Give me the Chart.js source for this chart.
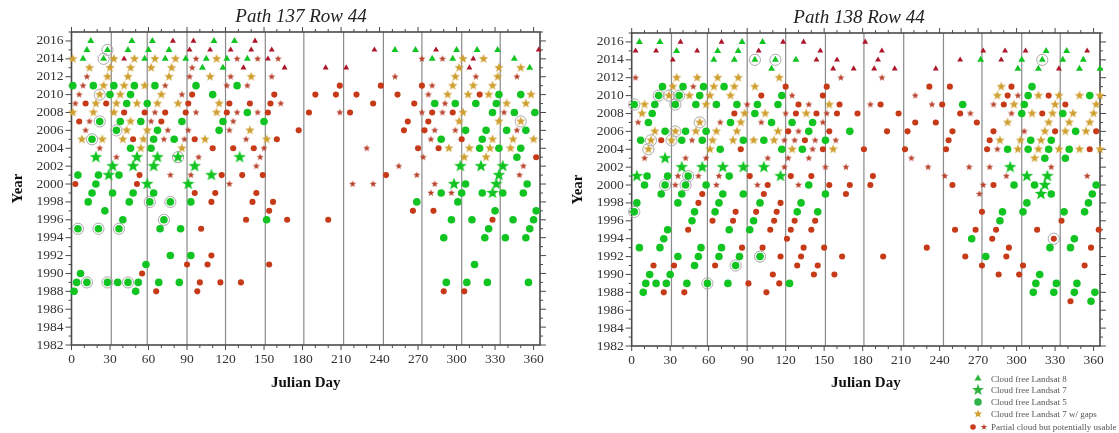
<!DOCTYPE html>
<html>
<head>
<meta charset="utf-8">
<title>Path 137 / 138 Row 44</title>
<script src="https://cdn.jsdelivr.net/npm/chart.js@4"></script>
<style>
  html, body { margin: 0; padding: 0; background: #fff; overflow: hidden; width: 1119px; height: 433px; }
  canvas { position: absolute; top: 0; filter: blur(0.35px); }
  #chart137 { left: 0; }
  #chart138 { left: 560px; }
  #legend { position: absolute; left: 966px; top: 372px; width: 153px; font: 9px "Liberation Serif", serif; color: #555; }
  #legend div { position: absolute; left: 25px; white-space: nowrap; line-height: 12px; }
  #legend svg { position: absolute; left: 0; top: 0; }
</style>
</head>
<body>
<canvas id="chart137" width="602" height="400"></canvas>
<canvas id="chart138" width="598" height="400"></canvas>
<div id="legend">
  <svg width="30" height="61">
    <polygon points="12,2.5 15.5,8.5 8.5,8.5" fill="#2fb33f"/>
    <polygon id="legendBig" points="" fill="#2fb33f"/>
    <circle cx="12" cy="30" r="3.8" fill="#2fb34a"/>
    <polygon id="legendGold" points="" fill="#cf9f30"/>
    <circle cx="7" cy="55" r="2.8" fill="#c63a18"/>
    <polygon id="legendRed" points="" fill="#b8402a"/>
  </svg>
  <div style="top:1px">Cloud free Landsat 8</div>
  <div style="top:12px">Cloud free Landsat 7</div>
  <div style="top:24px">Cloud free Landsat 5</div>
  <div style="top:36px">Cloud free Landsat 7 w/ gaps</div>
  <div style="top:49px">Partial cloud but potentially usable</div>
</div>

<script>
// axis and reference lines
const monthLines = [31, 59, 90, 120, 151, 181, 212, 243, 273, 304, 334];
const dayTicks = [0, 10, 20, 30, 40, 50, 60, 70, 80, 90, 100, 110, 120, 130, 140, 150, 160, 170, 180,
  190, 200, 210, 220, 230, 240, 250, 260, 270, 280, 290, 300, 310, 320, 330, 340, 350, 360];

// Path 137: year -> julian days
const p137L8 = {
  2016: [15, 47, 63, 111, 127],
  2015: [12, 28, 44, 60, 76, 252, 268, 300, 316, 332],
  2014: [9, 25, 57, 73, 89, 105, 121, 137, 281, 297, 345],
  2013: [102, 118, 357]
};
const p137L7 = {
  2003: [19, 51, 67, 83, 131],
  2002: [32, 48, 64, 96, 303, 319, 336],
  2001: [29, 109, 333],
  2000: [59, 91, 298, 331],
  1999: [328]
};
const p137L5 = {
  2011: [1, 17, 33, 49, 65, 97, 129],
  2010: [30, 46, 110, 333, 350],
  2009: [43, 59, 283, 299, 315, 331],
  2008: [137, 328, 345, 361],
  2007: [22, 38, 54, 86, 118, 150],
  2006: [35, 67, 115, 307, 323, 339, 354],
  2005: [16, 64, 80, 288, 320],
  2004: [46, 62, 318, 333, 350],
  2003: [347],
  2001: [5, 21, 37],
  2000: [19, 307, 355],
  1999: [16, 32, 48, 64, 288, 304, 320, 336, 352],
  1998: [13, 45, 61, 77, 93, 269, 301],
  1997: [26, 330, 362],
  1996: [40, 72, 152, 296, 312, 344, 360],
  1995: [5, 21, 37, 69, 85, 325, 357],
  1994: [290, 322, 338, 354],
  1992: [77, 93],
  1991: [58, 314],
  1990: [7],
  1989: [4, 12, 28, 36, 44, 52, 68, 84, 292, 308, 324, 356],
  1988: [2, 50]
};
const p137Gaps = {
  2014: [1, 33, 49, 65, 81, 113, 305, 321],
  2013: [14, 30, 46, 62, 78, 302, 333, 350],
  2012: [28, 44, 76, 108, 140, 299, 332],
  2011: [25, 41, 57, 297, 313, 328],
  2010: [22, 38, 70, 293, 309, 325, 358],
  2009: [19, 35, 51, 67, 83, 115, 339, 354],
  2008: [1, 17, 33, 113, 305],
  2007: [46, 302, 333, 350],
  2006: [43, 59, 139],
  2005: [8, 24, 40, 56, 104, 152, 328, 344, 360],
  2004: [54, 86, 294, 310, 326, 342],
  2003: [306, 323]
};
const p137PartCircle = {
  2011: [209, 241, 273],
  2010: [94, 158, 190, 206, 222, 254, 318],
  2009: [11, 27, 91, 123, 139, 155, 235, 267],
  2008: [41, 57, 73, 89, 121, 153, 185, 217, 281, 297],
  2007: [6, 70, 262, 278],
  2006: [177, 259, 275],
  2005: [48, 96, 160, 304],
  2004: [110, 126, 142, 270, 286],
  2003: [362],
  2001: [53, 117, 133, 149, 245],
  2000: [3, 51],
  1999: [96, 112, 144],
  1998: [109, 141, 157],
  1997: [154, 266, 282],
  1996: [136, 168, 200, 328],
  1995: [101],
  1992: [109],
  1991: [90, 106, 154],
  1990: [55],
  1989: [100, 116, 132],
  1988: [66, 98, 290, 306]
};
const p137PartStar = {
  2014: [97, 129, 145, 161, 273, 289],
  2013: [94],
  2012: [12, 92, 124, 156, 252, 315, 347],
  2011: [9, 73, 121, 137, 281],
  2010: [6, 86, 278],
  2009: [3, 163, 291],
  2008: [65, 97, 129, 145, 209, 273, 289, 337],
  2007: [14, 62, 126],
  2006: [11, 75, 91, 123, 283, 299, 347],
  2005: [72, 88, 136, 280],
  2004: [22, 150, 230],
  2003: [35, 99, 147, 274],
  2002: [144, 255, 352],
  2001: [77, 93, 269, 349],
  2000: [123, 219, 235, 283],
  1999: [280, 296]
};
const p137PartTri = {
  2016: [79, 95, 143],
  2015: [92, 108, 124, 140, 156, 236, 284, 364],
  2014: [41, 153, 313],
  2013: [134, 166, 198, 214, 310]
};
const p137Rings = {
  2015: [28],
  2014: [25],
  2010: [22],
  2007: [22, 350],
  2006: [35],
  2005: [16],
  2003: [83],
  1998: [61, 77],
  1996: [72],
  1995: [5, 21, 37],
  1989: [12, 28, 44]
};

// Path 138: year -> julian days
const p138L8 = {
  2016: [6, 22, 86, 102],
  2015: [35, 67, 83, 323, 339],
  2014: [64, 80, 96, 112, 128, 272, 304, 320, 336, 352],
  2013: [109, 301, 317, 349, 365]
};
const p138L7 = {
  2003: [26],
  2002: [39, 55, 71, 87, 103, 295],
  2001: [4, 116, 308, 324],
  2000: [322],
  1999: [319]
};
const p138L5 = {
  2011: [24, 40, 56, 72, 312],
  2010: [21, 37, 53, 117, 309, 357],
  2009: [2, 18, 34, 50, 66, 82, 98, 114, 258, 306],
  2008: [16, 96, 304, 336],
  2007: [13, 77, 109, 125, 141],
  2006: [26, 42, 58, 138, 170, 346],
  2005: [7, 39, 55, 87, 103, 151, 311, 327],
  2004: [69, 117, 133, 293, 309, 325, 341],
  2003: [322, 338],
  2001: [12, 28, 44, 76],
  2000: [10, 26, 42, 58, 138, 298, 314, 362],
  1999: [23, 39, 71, 87, 151, 327, 359],
  1998: [4, 36, 68, 100, 132, 308, 356],
  1997: [2, 49, 65, 129, 145, 289, 305, 337, 353],
  1996: [47, 95, 287],
  1995: [28, 76, 92],
  1994: [25, 265, 345],
  1993: [6, 22, 54, 70, 326, 342],
  1992: [36, 52, 68, 84, 100, 276],
  1991: [49, 81],
  1990: [14, 30, 318],
  1989: [11, 19, 27, 43, 59, 75, 123, 315, 331, 347],
  1988: [9, 313, 329, 345, 361],
  1987: [358]
};
const p138Gaps = {
  2012: [35, 51, 67, 83, 115],
  2011: [32, 64, 80, 96, 288],
  2010: [29, 45, 61, 77, 285, 317, 333, 349, 365],
  2009: [10, 58, 154, 298, 330, 362],
  2008: [8, 88, 104, 136, 312, 328, 344, 360],
  2007: [53, 85, 293, 325, 341, 357],
  2006: [18, 34, 50, 66, 82, 114, 322, 338, 354],
  2005: [15, 31, 63, 79, 95, 111, 287, 303, 319],
  2004: [13, 61, 125, 157, 301, 317, 333, 349, 365],
  2003: [314]
};
const p138PartCircle = {
  2011: [120, 152, 232, 248, 296],
  2010: [101, 149, 293, 325],
  2009: [130, 162, 194, 242, 290, 338],
  2008: [80, 128, 144, 160, 176, 208, 256, 320],
  2007: [221, 237, 269],
  2006: [122, 154, 199, 215, 250, 282, 330, 362],
  2005: [23, 135, 247, 279],
  2004: [85, 149, 181, 213, 245, 277, 357],
  2001: [92, 124, 140, 188],
  2000: [106, 154, 170, 186, 250, 282],
  1999: [55, 103, 167],
  1998: [52, 116],
  1997: [81, 97, 113, 273],
  1996: [63, 79, 111, 127, 143, 335],
  1995: [44, 108, 124, 140, 252, 268, 284, 316, 364],
  1994: [121, 281, 329],
  1993: [86, 102, 134, 150, 230, 294, 358],
  1992: [116, 132, 164, 196, 260, 292],
  1991: [17, 33, 65, 129, 145, 273, 305, 353],
  1990: [110, 142, 158, 286, 302],
  1989: [91, 115],
  1988: [25, 41, 105],
  1987: [342]
};
const p138PartStar = {
  2012: [3, 163, 195],
  2011: [48],
  2010: [125, 221, 301],
  2009: [90, 138, 186, 234, 282],
  2008: [120, 152, 264, 296],
  2007: [5, 69, 101, 149],
  2006: [130, 306],
  2005: [47, 119, 127, 143, 159],
  2004: [141, 285],
  2003: [10, 42, 58, 106, 122, 138, 218],
  2002: [119, 151, 167, 231, 263, 279, 327],
  2001: [36, 52, 68, 244, 292, 355],
  2000: [34, 66, 98, 130, 274],
  1999: [271]
};
const p138PartTri = {
  2016: [38, 70, 118, 134, 182],
  2015: [3, 19, 51, 99, 147, 195, 274, 291, 307, 355],
  2014: [32, 144, 160, 192, 256, 288],
  2013: [157, 173, 189, 205, 237, 333]
};
const p138Rings = {
  2014: [96, 112, 320],
  2010: [21, 29, 37],
  2009: [2, 34],
  2007: [53],
  2006: [34],
  2005: [15, 31],
  2004: [13],
  2001: [44],
  2000: [26, 42],
  1997: [2],
  1994: [329],
  1992: [100],
  1991: [81],
  1989: [59]
};

// colours
const green = '#12c422';
const gold = '#cf9f30';
const redCircle = '#c63a18';
const redStar = '#b8402a';
const redTri = '#ad1528';
const ringGrey = '#a8a8a8';
const frameGrey = '#4a4a4a';
const lineGrey = '#8a8a8a';

// turn {year: [days]} into scatter points
function toPoints(rows) {
  var out = [];
  Object.keys(rows).forEach(function (year) {
    rows[year].forEach(function (day) {
      out.push({ x: day, y: Number(year) });
    });
  });
  return out;
}

function starPath(cx, cy, r) {
  var pts = [];
  for (var i = 0; i < 10; i++) {
    var rad = i % 2 === 0 ? r : r * 0.42;
    var a = -Math.PI / 2 + i * Math.PI / 5;
    pts.push([cx + rad * Math.cos(a), cy + rad * Math.sin(a)]);
  }
  return pts;
}

// chart.js "star" is only crossed lines, so make a filled five point star
function makeStar(r, color) {
  var c = document.createElement('canvas');
  c.width = c.height = Math.ceil(r * 2 + 2);
  var ctx = c.getContext('2d');
  ctx.fillStyle = color;
  ctx.beginPath();
  starPath(c.width / 2, c.height / 2, r).forEach(function (p, i) {
    if (i === 0) ctx.moveTo(p[0], p[1]); else ctx.lineTo(p[0], p[1]);
  });
  ctx.closePath();
  ctx.fill();
  return c;
}

const bigStar = makeStar(6.6, green);
const goldStar = makeStar(4.9, gold);
const smallStar = makeStar(3.7, redStar);

// frame, month lines and the ticks on all four sides
const framePlugin = {
  id: 'frame',
  // title is centred a little off the plot in the original
  afterLayout: function (chart) {
    var shift = chart.options.titleShift || 0;
    chart.titleBlock.left += shift;
    chart.titleBlock.right += shift;
  },
  beforeDatasetsDraw: function (chart) {
    var a = chart.chartArea, ctx = chart.ctx;
    var xs = chart.scales.x, ys = chart.scales.y;
    ctx.save();
    ctx.strokeStyle = lineGrey;
    ctx.lineWidth = 1.2;
    monthLines.forEach(function (d) {
      var px = xs.getPixelForValue(d);
      ctx.beginPath(); ctx.moveTo(px, a.top); ctx.lineTo(px, a.bottom); ctx.stroke();
    });
    ctx.strokeStyle = frameGrey;
    ctx.lineWidth = 1;
    xs.ticks.forEach(function (t) {
      var px = xs.getPixelForValue(t.value);
      var len = t.value % 30 === 0 ? 5 : 3;
      ctx.beginPath();
      ctx.moveTo(px, a.top); ctx.lineTo(px, a.top - len);
      ctx.moveTo(px, a.bottom); ctx.lineTo(px, a.bottom + len);
      ctx.stroke();
    });
    ys.ticks.forEach(function (t) {
      var py = ys.getPixelForValue(t.value);
      var len = t.value % 2 === 0 ? 6 : 3;
      ctx.beginPath();
      ctx.moveTo(a.left, py); ctx.lineTo(a.left - len, py);
      ctx.moveTo(a.right, py); ctx.lineTo(a.right + len, py);
      ctx.stroke();
    });
    ctx.lineWidth = 1.6;
    ctx.strokeRect(a.left, a.top, a.right - a.left, a.bottom - a.top);
    ctx.restore();
  }
};

function series(label, rows, style, radius, color) {
  return {
    label: label,
    data: toPoints(rows),
    pointStyle: style,
    pointRadius: radius,
    pointBackgroundColor: color,
    pointBorderWidth: 0,
    showLine: false,
    clip: false
  };
}

function makeChart(id, title, data, axisW, axisH, rightPad, topPad, titleShift) {
  var rings = series('Highlighted', data.rings, 'circle', 5.6, 'rgba(0,0,0,0)');
  rings.pointBorderColor = ringGrey;
  rings.pointBorderWidth = 1;
  return new Chart(document.getElementById(id), {
    type: 'scatter',
    data: {
      datasets: [
        series('Cloud free Landsat 7', data.l7, bigStar, 6, green),
        series('Cloud free Landsat 5', data.l5, 'circle', 3.8, green),
        series('Cloud free Landsat 8', data.l8, 'triangle', 4, green),
        series('Cloud free Landsat 7 w/ gaps', data.gaps, goldStar, 4, gold),
        series('Partial cloud but potentially usable', data.partCircle, 'circle', 3.05, redCircle),
        series('Partial cloud star', data.partStar, smallStar, 3, redStar),
        series('Partial cloud triangle', data.partTri, 'triangle', 3.4, redTri),
        rings
      ]
    },
    options: {
      responsive: false,
      animation: false,
      titleShift: titleShift,
      layout: { padding: { left: 0, right: rightPad, top: 0, bottom: 0 } },
      plugins: {
        legend: { display: false },
        tooltip: { enabled: false },
        title: {
          display: true,
          text: title,
          color: '#222',
          font: { family: '"Liberation Serif", serif', size: 19, style: 'italic', weight: 'normal' },
          padding: { top: topPad + 1, bottom: 3.2 }
        }
      },
      scales: {
        x: {
          type: 'linear',
          min: 0,
          max: 365,
          border: { display: false },
          grid: { display: false, drawTicks: false },
          afterBuildTicks: function (axis) {
            axis.ticks = dayTicks.map(function (d) { return { value: d }; });
          },
          afterFit: function (axis) { axis.height = axisH; },
          ticks: {
            autoSkip: false,
            maxRotation: 0,
            padding: 6,
            color: '#333',
            font: { family: '"Liberation Serif", serif', size: 13.5 },
            callback: function (v) { return v % 30 === 0 ? String(v) : ''; }
          },
          title: {
            display: true,
            text: 'Julian Day',
            color: '#111',
            font: { family: '"Liberation Serif", serif', size: 15, weight: 'bold' },
            padding: { top: 0, bottom: 8 }
          }
        },
        y: {
          type: 'linear',
          min: 1982,
          max: 2017,
          border: { display: false },
          grid: { display: false, drawTicks: false },
          afterBuildTicks: function (axis) {
            var t = [];
            for (var y = 1982; y <= 2017; y++) t.push({ value: y });
            axis.ticks = t;
          },
          afterFit: function (axis) { axis.width = axisW; },
          ticks: {
            autoSkip: false,
            padding: 8,
            color: '#333',
            font: { family: '"Liberation Serif", serif', size: 13.5 },
            callback: function (v) { return v % 2 === 0 ? String(v) : ''; }
          },
          title: {
            display: true,
            text: 'Year',
            color: '#111',
            font: { family: '"Liberation Serif", serif', size: 15, weight: 'bold' },
            padding: { top: 9, bottom: 0 }
          }
        }
      }
    },
    plugins: [framePlugin]
  });
}

makeChart('chart137', 'Path 137 Row 44', {
  l8: p137L8, l7: p137L7, l5: p137L5, gaps: p137Gaps,
  partCircle: p137PartCircle, partStar: p137PartStar, partTri: p137PartTri, rings: p137Rings
}, 71.5, 55, 62, 5, 31);

makeChart('chart138', 'Path 138 Row 44', {
  l8: p138L8, l7: p138L7, l5: p138L5, gaps: p138Gaps,
  partCircle: p138PartCircle, partStar: p138PartStar, partTri: p138PartTri, rings: p138Rings
}, 71.7, 54, 58, 6, 29);

// legend stars
function setStar(id, cx, cy, r) {
  document.getElementById(id).setAttribute('points', starPath(cx, cy, r).map(function (p) {
    return p[0].toFixed(1) + ',' + p[1].toFixed(1);
  }).join(' '));
}
setStar('legendBig', 12, 18, 6.2);
setStar('legendGold', 12, 42, 4.4);
setStar('legendRed', 18, 55, 3.3);
</script>
</body>
</html>
